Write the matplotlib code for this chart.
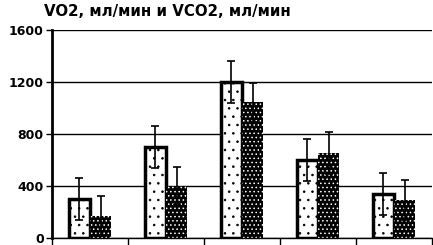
import numpy as np
import matplotlib
matplotlib.use('Agg')
import matplotlib.pyplot as plt

# data
groups = ['1', '2', '3', '4', '5']
vo2 = [300, 700, 1200, 600, 340]
vo2_err = [160, 160, 160, 160, 160]
vco2 = [170, 400, 1045, 655, 290]
vco2_err = [155, 145, 150, 160, 155]
yticks = [0, 400, 800, 1200, 1600]

plt.rcParams['hatch.linewidth'] = 0.6

fig = plt.figure(figsize=(4.33, 2.45), dpi=100)
ax = fig.add_axes([52 / 433, 1 - 238 / 245, 380 / 433, 208 / 245])

x = np.arange(len(groups)) + 0.5
w = 0.28

ax.bar(x - w / 2, vo2, w, color='white', edgecolor='black', linewidth=2.5,
       hatch='..', zorder=2)
ax.bar(x + w / 2, vco2, w, color='black', edgecolor='white', linewidth=0,
       hatch='....', zorder=2)
ax.errorbar(x - w / 2, vo2, yerr=vo2_err, fmt='none', ecolor='black',
            elinewidth=1.2, capsize=3, capthick=1.2, zorder=3)
ax.errorbar(x + w / 2, vco2, yerr=vco2_err, fmt='none', ecolor='black',
            elinewidth=1.2, capsize=3, capthick=1.2, zorder=3)

ax.set_xlim(0, len(groups))
ax.set_ylim(0, 1600)
ax.set_yticks(yticks)
ax.set_yticklabels([str(t) for t in yticks], fontweight='bold', fontsize=9)
ax.set_xticks(np.arange(len(groups) + 1))
ax.set_xticklabels([])
ax.tick_params(axis='x', direction='out', length=6, width=1)
ax.tick_params(axis='y', direction='out', length=4, width=1, pad=2)
ax.yaxis.grid(True, color='black', linewidth=1)
ax.set_axisbelow(True)

for s in ['top', 'right']:
    ax.spines[s].set_visible(False)
ax.spines['left'].set_linewidth(2)
ax.spines['bottom'].set_linewidth(1)

fig.text(44 / 433, 1 - 11 / 245, 'VO2, мл/мин и VCO2, мл/мин',
         fontweight='bold', fontsize=10.8, va='center', ha='left')

fig.savefig('out.png', dpi=100)
